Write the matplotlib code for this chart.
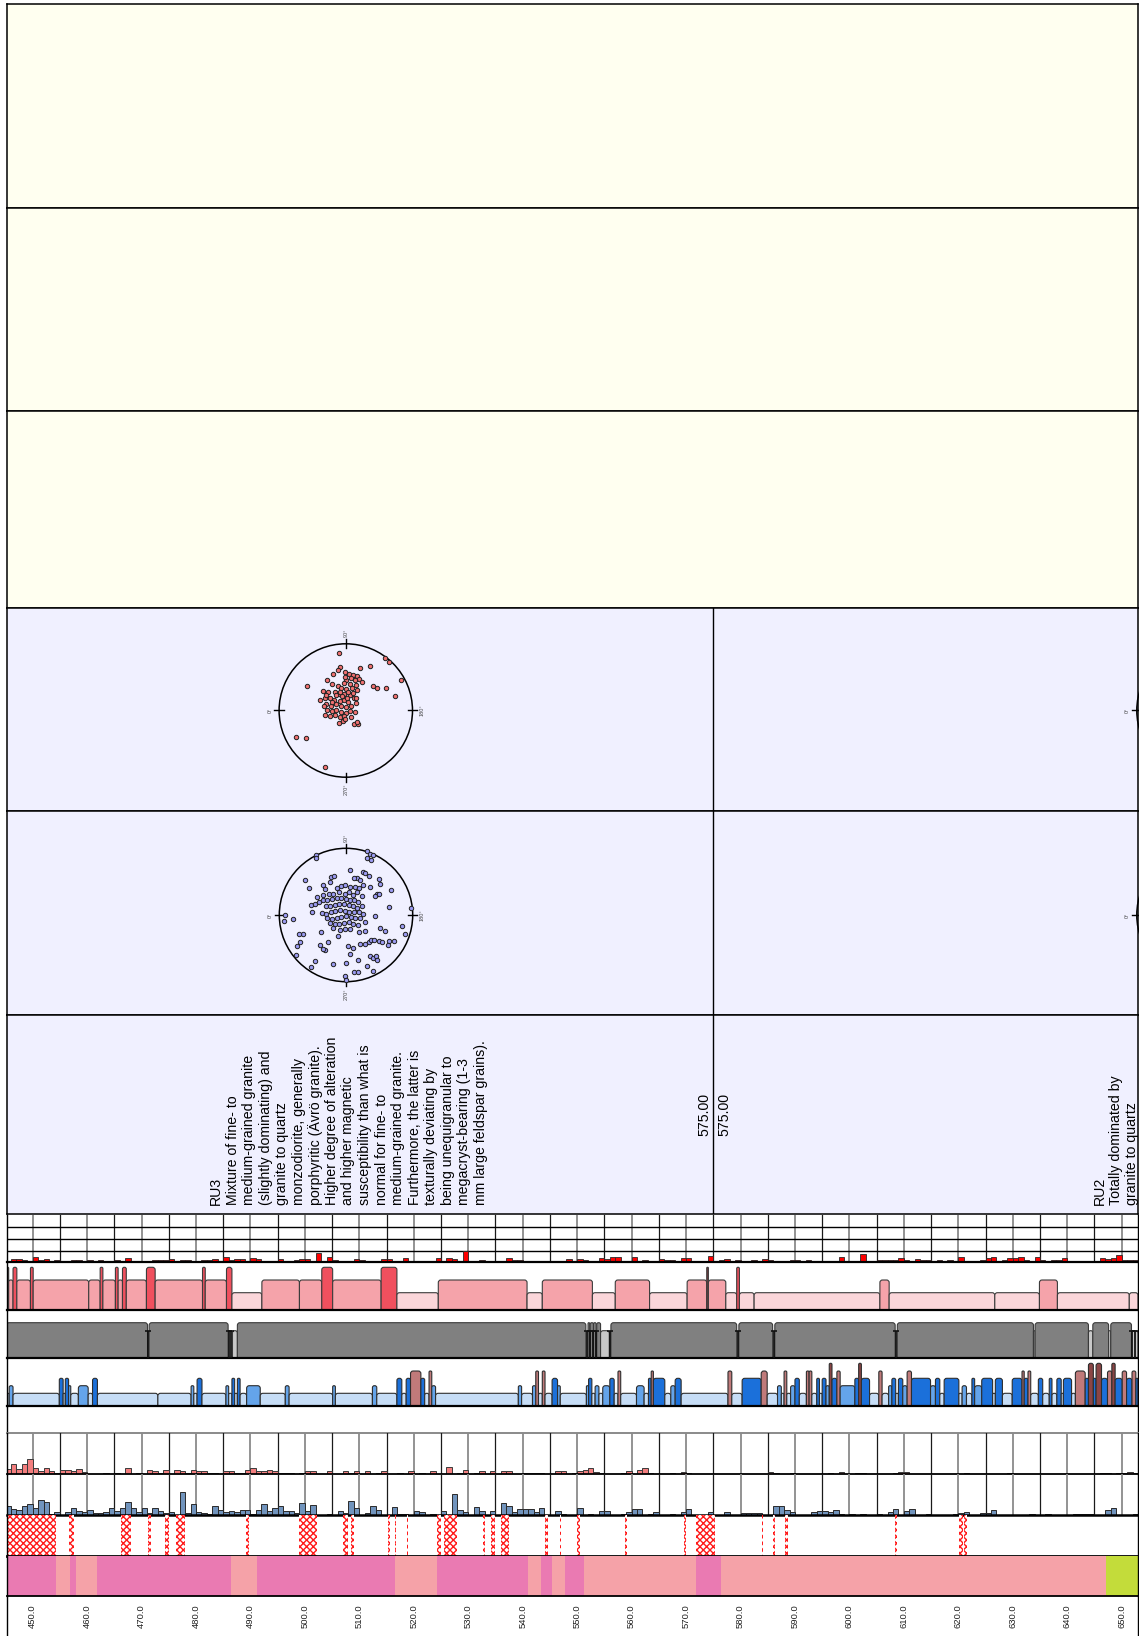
import matplotlib
matplotlib.use('Agg')
import matplotlib.pyplot as plt
from matplotlib.patches import Circle, FancyBboxPatch
from matplotlib.lines import Line2D
import numpy as np

plt.rcParams['font.family'] = ['Liberation Sans', 'DejaVu Sans']
plt.rcParams['hatch.linewidth'] = 1.0

# ---------------------------------------------------------------- data
DEPTH_MIN, DEPTH_MAX = 445.2, 653.0
depth_ticks = list(range(450, 651, 10))
section_boundary = 575.0

# 1 m bins starting at 445 m
bin_start = 445
red_bar_values = [
    0, .31, .26, .23, 0, .49, .20, .29, .11, .17, 0, .14, .23, .23, 0, .17, .14, .23, .09, 0,
    .23, 0, .40, .06, .11, .09, 0, .17, .23, .20, .31, 0, .23, .23, 0, .09, .23, .23, .26, 0,
    .43, .23, .26, .31, 0, .34, .31, .14, .09, 0, .26, 0, .14, .20, .29, .31, 0, .77, 0, .46,
    .17, .09, 0, .14, .31, .23, 0, .09, .09, .29, .31, 0, 0, .34, .14, .14, .11, 0, .14, .34,
    0, .34, .26, .09, 1.0, 0, .09, .17, .14, 0, 0, 0, .34, .17, .23, .14, .09, 0, .14, .14,
    .14, 0, .14, .29, .09, .26, .23, 0, .09, .40, .29, .43, .43, .06, 0, .43, 0, .23, 0, 0,
    .31, .20, .17, 0, .34, .34, 0, 0, 0, .51, 0, .17, .26, 0, .17, 0, 0, .17, 0, .26,
    .17, 0, 0, .14, .17, .17, 0, .17, 0, 0, 0, 0, 0, .43, 0, 0, 0, .71, 0, .14,
    .23, .23, .17, .17, .34, .23, 0, .29, .23, .23, 0, .23, 0, .17, 0, .49, 0, 0, 0, .20,
    .34, .43, 0, .17, .34, .34, .43, .20, 0, .43, .23, 0, .17, .17, .40, 0, .14, .14, .11, .09,
    0, .40, .29, .40, .60, .20, .20, .20]

red_hist_values = [
    16, 29, 16, 29, 45, 18, 8, 17, 8, 4, 12, 12, 8, 16, 6, 0, 0, 0, 4, 0,
    4, 0, 17, 0, 4, 0, 12, 8, 4, 12, 0, 12, 8, 4, 12, 8, 8, 4, 4, 0,
    8, 8, 4, 4, 12, 17, 8, 8, 12, 8, 4, 4, 2, 0, 2, 8, 8, 0, 0, 8,
    0, 0, 8, 4, 8, 0, 8, 0, 4, 8, 0, 0, 2, 0, 8, 0, 4, 0, 8, 0,
    0, 22, 0, 4, 13, 0, 4, 8, 0, 8, 0, 8, 8, 0, 0, 4, 4, 4, 4, 0,
    0, 8, 8, 0, 4, 8, 13, 19, 6, 2, 0, 0, 0, 2, 8, 0, 13, 17, 4, 0,
    0, 0, 4, 0, 6, 2, 0, 0, 0, 0, 0, 0, 0, 0, 0, 0, 0, 0, 0, 0,
    6, 2, 0, 0, 2, 0, 0, 0, 0, 0, 0, 2, 0, 6, 0, 0, 2, 2, 0, 0,
    1, 0, 0, 4, 6, 6, 0, 0, 0, 0, 0, 0, 0, 0, 0, 0, 2, 0, 0, 0,
    0, 0, 0, 0, 2, 0, 0, 0, 0, 0, 0, 0, 0, 0, 0, 0, 0, 0, 0, 0,
    0, 2, 2, 0, 2, 4, 6, 2]

blue_hist_values = [
    28, 18, 14, 26, 33, 20, 46, 38, 4, 8, 0, 8, 21, 12, 8, 14, 6, 6, 8, 21,
    12, 22, 38, 22, 8, 21, 6, 21, 12, 6, 8, 0, 70, 6, 33, 8, 6, 4, 26, 16,
    8, 12, 8, 16, 16, 4, 16, 32, 12, 20, 26, 12, 12, 6, 36, 12, 30, 0, 0, 2,
    0, 12, 6, 42, 20, 0, 6, 28, 16, 0, 0, 24, 2, 2, 0, 12, 8, 0, 2, 0,
    12, 0, 64, 16, 8, 0, 24, 12, 0, 12, 0, 36, 28, 8, 18, 18, 18, 8, 20, 0,
    0, 12, 2, 0, 0, 20, 0, 4, 0, 12, 12, 0, 0, 2, 8, 18, 18, 0, 2, 8,
    0, 0, 4, 0, 8, 18, 0, 0, 0, 8, 0, 0, 8, 0, 0, 6, 6, 6, 6, 0,
    0, 26, 26, 16, 10, 0, 0, 0, 8, 12, 12, 8, 14, 4, 0, 2, 0, 2, 0, 0,
    2, 0, 8, 18, 0, 12, 18, 0, 0, 2, 0, 0, 0, 0, 2, 6, 10, 0, 0, 6,
    6, 14, 0, 0, 0, 0, 0, 0, 2, 0, 0, 2, 0, 0, 0, 0, 4, 2, 4, 4,
    0, 0, 14, 22, 0, 0, 0, 2]

# alteration intensity intervals (from, to, class 1 faint .. 3 strong, 4 = strong thin/dark)
alteration = [
    (445.2, 445.6, 4), (445.6, 446.4, 2), (446.4, 447.1, 3), (447.1, 449.6, 2), (449.6, 450.1, 3),
    (450.1, 460.3, 2), (460.3, 462.4, 2), (462.4, 462.9, 3), (462.9, 465.2, 2), (465.2, 465.7, 3),
    (465.7, 466.5, 2), (466.5, 467.2, 3), (467.2, 470.9, 2), (470.9, 472.5, 3), (472.5, 481.2, 2),
    (481.2, 481.7, 3), (481.7, 485.6, 2), (485.6, 486.6, 3), (486.6, 492.1, 1), (492.1, 499.0, 2),
    (499.0, 503.1, 2), (503.1, 505.1, 3), (505.1, 514.0, 2), (514.0, 516.9, 3), (516.9, 524.5, 1),
    (524.5, 540.8, 2), (540.8, 543.6, 1), (543.6, 552.8, 2), (552.8, 557.0, 1), (557.0, 563.3, 2),
    (563.3, 570.2, 1), (570.2, 573.8, 2), (573.8, 574.1, 4), (574.1, 577.3, 2), (577.3, 579.3, 1),
    (579.3, 579.8, 3), (579.8, 582.5, 1), (582.5, 605.6, 1), (605.6, 607.3, 2), (607.3, 626.7, 1),
    (626.7, 634.9, 1), (634.9, 638.2, 2), (638.2, 651.4, 1), (651.4, 653.0, 1)]

# rock quality intervals (1 = lower, 2 = higher)
rock_quality = [
    (445.2, 471.1, 2), (471.4, 485.9, 2), (486.7, 487.6, 1), (487.6, 551.6, 2), (552.0, 552.3, 2),
    (552.4, 553.0, 2), (553.0, 553.5, 2), (553.6, 554.3, 2), (554.3, 555.9, 1), (556.2, 579.3, 2),
    (579.7, 585.9, 2), (586.3, 608.4, 2), (608.8, 633.8, 2), (633.8, 634.1, 1), (634.1, 643.9, 2),
    (643.9, 644.7, 1), (644.7, 647.6, 2), (647.6, 648.0, 1), (648.0, 651.8, 2), (651.8, 653.0, 1)]
rock_quality_markers = [471.25, 486.0, 486.5, 551.8, 552.35, 552.95, 553.5, 555.95,
                        579.5, 586.1, 608.6, 651.9, 652.4]

# fracture frequency class intervals (1 .. 5)
fracture_class = [
    (445.2, 445.7, 1), (445.7, 446.4, 2), (446.4, 454.9, 1), (454.9, 455.6, 3), (455.6, 456.0, 1),
    (456.0, 456.6, 3), (456.6, 457.0, 2), (457.0, 458.4, 1), (458.4, 460.2, 2), (460.2, 461.0, 1),
    (461.0, 461.9, 3), (461.9, 473.0, 1), (473.0, 479.1, 1), (479.1, 479.6, 2), (479.6, 480.2, 1),
    (480.2, 481.1, 3), (481.1, 485.5, 1), (485.5, 486.0, 2), (486.0, 486.6, 1), (486.6, 487.1, 3),
    (487.1, 487.6, 1), (487.6, 488.1, 3), (488.1, 489.3, 1), (489.3, 491.8, 2), (491.8, 496.4, 1),
    (496.4, 497.1, 2), (497.1, 505.1, 1), (505.1, 505.6, 2), (505.6, 512.4, 1), (512.4, 513.2, 2),
    (513.2, 516.9, 1), (516.9, 517.8, 3), (517.8, 518.6, 1), (518.6, 519.4, 3), (519.4, 521.3, 4),
    (521.3, 522.0, 3), (522.0, 522.8, 1), (522.8, 523.3, 4), (523.3, 524.0, 2), (524.0, 539.2, 1),
    (539.2, 539.8, 2), (539.8, 541.8, 1), (541.8, 542.4, 2), (542.4, 542.9, 4), (542.9, 543.6, 1),
    (543.6, 544.1, 4), (544.1, 545.4, 1), (545.4, 546.4, 3), (546.4, 546.9, 2), (546.9, 551.7, 1),
    (551.7, 552.1, 2), (552.1, 552.7, 3), (552.7, 553.3, 1), (553.3, 554.0, 2), (554.0, 554.7, 1),
    (554.7, 556.0, 2), (556.0, 556.8, 3), (556.8, 557.5, 1), (557.5, 558.0, 4), (558.0, 560.9, 1),
    (560.9, 562.3, 2), (562.3, 563.1, 1), (563.1, 563.6, 3), (563.6, 564.0, 4), (564.0, 566.1, 3),
    (566.1, 567.2, 1), (567.2, 568.0, 2), (568.0, 569.1, 3), (569.1, 577.7, 1), (577.7, 578.4, 4),
    (578.4, 580.3, 1), (580.3, 583.8, 3), (583.8, 584.9, 4), (584.9, 586.8, 1), (586.8, 587.5, 2),
    (587.5, 588.0, 1), (588.0, 588.5, 4), (588.5, 589.2, 1), (589.2, 590.0, 2), (590.0, 590.8, 3),
    (590.8, 592.1, 1), (592.1, 592.6, 4), (592.6, 593.1, 4), (593.1, 594.0, 1), (594.0, 594.5, 3),
    (594.5, 595.0, 1), (595.0, 595.7, 3), (595.7, 596.3, 2), (596.3, 596.8, 5), (596.8, 597.7, 3),
    (597.7, 598.3, 4), (598.3, 601.0, 2), (601.0, 601.7, 3), (601.7, 602.2, 5), (602.2, 603.7, 3),
    (603.7, 605.4, 1), (605.4, 606.0, 4), (606.0, 607.2, 1), (607.2, 607.8, 2), (607.8, 608.5, 3),
    (608.5, 609.0, 1), (609.0, 609.8, 3), (609.8, 610.6, 2), (610.6, 611.4, 4), (611.4, 614.9, 3),
    (614.9, 615.8, 2), (615.8, 616.6, 3), (616.6, 617.4, 1), (617.4, 620.1, 3), (620.1, 620.7, 1),
    (620.7, 621.5, 2), (621.5, 622.5, 1), (622.5, 623.0, 3), (623.0, 624.3, 2), (624.3, 626.3, 3),
    (626.3, 626.8, 1), (626.8, 628.1, 3), (628.1, 629.9, 1), (629.9, 631.7, 3), (631.7, 632.1, 4),
    (632.1, 632.8, 3), (632.8, 633.3, 4), (633.3, 634.7, 1), (634.7, 635.5, 3), (635.5, 636.7, 1),
    (636.7, 637.2, 3), (637.2, 638.1, 1), (638.1, 638.9, 3), (638.9, 639.3, 1), (639.3, 640.8, 3),
    (640.8, 641.5, 1), (641.5, 643.3, 4), (643.3, 643.9, 3), (643.9, 644.8, 5), (644.8, 645.3, 3),
    (645.3, 646.3, 5), (646.3, 647.4, 3), (647.4, 648.2, 4), (648.2, 648.8, 5), (648.8, 650.1, 3),
    (650.1, 650.9, 4), (650.9, 651.9, 3), (651.9, 652.6, 4), (652.6, 653.0, 3)]

# oxidized / hatched intervals
hatched_intervals = [
    (445.2, 454.2), (456.7, 457.6), (466.3, 468.0), (471.1, 471.7), (474.4, 475.0), (476.3, 477.9),
    (489.1, 489.7), (498.9, 502.3), (507.0, 507.9), (508.4, 509.0), (515.3, 515.6), (516.5, 516.8),
    (518.7, 519.0), (524.3, 525.0), (525.6, 527.9), (532.7, 533.0), (534.2, 535.0), (536.1, 537.4),
    (544.1, 544.6), (546.8, 547.1), (550.0, 550.5), (558.8, 559.2), (569.6, 570.0), (571.8, 575.3),
    (583.9, 584.1), (585.9, 586.4), (588.2, 588.7), (608.4, 608.7), (620.2, 620.9), (621.1, 621.6)]

# rock type intervals
rock_type = [
    (445.2, 454.3, 'A'), (454.3, 456.9, 'B'), (456.9, 458.0, 'A'), (458.0, 461.8, 'B'),
    (461.8, 486.4, 'A'), (486.4, 491.2, 'B'), (491.2, 516.5, 'A'), (516.5, 524.3, 'B'),
    (524.3, 541.0, 'A'), (541.0, 543.4, 'B'), (543.4, 545.4, 'A'), (545.4, 547.8, 'B'),
    (547.8, 551.3, 'A'), (551.3, 571.8, 'B'), (571.8, 576.4, 'A'), (576.4, 647.1, 'B'),
    (647.1, 653.0, 'C')]

# stereonet poles, projected coordinates in percent of net radius
red_pole_x = [-10, 59.5, 64.5, 36, 22, -9, -11, -1, -19, 5, 11, 17, 20, 8, 1, 14, 24, -28, -3, 6,
              15, 41, 47, 61, 83.5, -57.5, -21, -12, -7, 1, 10, 17, -34, -26, -16, -10, -3, 6, 13,
              -38, -31, -23, -17, -9, -2, 4, 16, 74, -29, -22, -15, -7, 0, 8, 15, -28, -21, -14,
              -7, 0, 7, 14, -31, -24, -16, -8, -2, 8, -10, -4, -1, 13, 19, 17, -74, -60, -31.5,
              -14, -20, 2, -5, -29, -33, 11, 4, -8, -1]
red_pole_y = [86, 79, 72, 67, 63, 65, 61, 58, 54, 55, 53, 51, 47, 48, 46, 45, 42, 45, 41, 40,
              38, 36, 34, 34, 45, 36, 39, 36, 33, 32, 33, 31, 29, 27, 28, 25, 24, 23, 19,
              16, 19, 19, 16, 14, 15, 12, 19, 21, 10, 7, 9, 6, 5, 6, 11, 1, -1, 1,
              -2, -3, -1, -2, -6, -8, -7, -10, -8, -10, -19, -15, -13, -20, -20, -17, -39, -41.5, -84,
              23, 13, 19, 21, 23, 7, 26, 28, 28, 50]
blue_pole_x = [-45, -45, 31, 36, 40, 32, 37, 6, 26, 28, 35, 17, 12, 21, -62, -22, -18, -24, 50, 51,
               -55, -34, -31, -14, -7, -1, 6, 14, 20, 26, 36, 47, 49, 68, 43, -43, -35, -26, -19,
               -11, -2, 4, 10, 17, 24, -52, -46, -40, -34, -28, -21, -14, -7, 0, 6, 12, 18, -30,
               -24, -17, -10, -3, 4, 11, 17, 24, 65, -51, -36, -30, -23, -16, -9, -2, 5, 12, 19,
               26, -28, -21, -14, -7, 0, 7, 14, 21, 28, 44, -92, -93, -79, 98, -24, -17, -10, -3,
               4, 11, 18, -19, -9, -1, 6, 20, 29, -37, -65, -12, 51, 59, 84, 88, -69, -73, -39,
               -31, 3, 10, 21, 29, 35, 38, 42, 50, 54, 65, 72, 63, 6, -75, -46, -19, 0, 18, 36,
               41, 45, 47, -53, 32, 41, 12, 18, -1, 0, -34, -27, -70]
blue_pole_y = [90, 86, 96, 92, 90, 85, 83, 67, 65, 63, 58, 56, 55, 53, 52, 57, 59, 50, 54, 47,
               40, 45, 39, 40, 43, 45, 42, 42, 40, 45, 42, 32, 31, 38, 29, 27, 30, 31, 32,
               34, 32, 35, 30, 34, 28, 15, 16, 20, 22, 22, 24, 25, 26, 24, 22, 23, 20, 14,
               13, 15, 17, 16, 15, 14, 11, 13, 12, 5, 3, 2, 4, 6, 7, 6, 5, 4, 4,
               1, -5, -6, -4, -3, -2, -3, -5, -4, -10, -2, 0, -9, -6, 10, -12, -14, -14, -12,
               -11, -13, -15, -20, -22, -21, -21, -25, -24, -25, -28, -31, -19, -24, -16, -29, -41, -46, -45,
               -53, -46, -49, -43, -43, -40, -37, -38, -39, -40, -39, -39, -45, -58, -60, -69, -73, -72, -68, -62,
               -65, -61, -67, -78, -77, -84, -85, -86, -91, -97, -51, -41, -28]

unit_label = 'RU3'
unit_description = ['Mixture of fine- to', 'medium-grained granite', '(slightly dominating) and',
                    'granite to quartz', 'monzodiorite, generally', 'porphyritic (Ävrö granite).',
                    'Higher degree of alteration', 'and higher magnetic', 'susceptibility than what is',
                    'normal for fine- to', 'medium-grained granite.', 'Furthermore, the latter is',
                    'texturally deviating by', 'being unequigranular to', 'megacryst-bearing (1-3',
                    'mm large feldspar grains).']
unit2_label = 'RU2'
unit2_description = ['Totally dominated by', 'granite to quartz']
boundary_label = '575.00'

# ---------------------------------------------------------------- layout helpers
W, H = 1139, 1636
fig = plt.figure(figsize=(W / 100, H / 100), dpi=100)
XL, XR = 6.5, 1138.0
PXM = (XR - XL) / (DEPTH_MAX - DEPTH_MIN)


def add_ax(x0, y0, x1, y1):
    return fig.add_axes([x0 / W, 1 - y1 / H, (x1 - x0) / W, (y1 - y0) / H])


def xpix(d):
    return XL + (d - DEPTH_MIN) * PXM


def ftext(xp, yp, s, **kw):
    return fig.text(xp / W, 1 - yp / H, s, **kw)


def panel(y0, y1, color):
    ax = add_ax(XL, y0, XR, y1)
    ax.set_facecolor(color)
    ax.set_xlim(DEPTH_MIN, DEPTH_MAX)
    ax.set_ylim(0, 1)
    ax.set_xticks([]); ax.set_yticks([])
    for s in ax.spines.values():
        s.set_linewidth(1.1); s.set_color('black')
    return ax


def track(y0, y1, bottom_lw=1.6, bottom_color='black'):
    ax = add_ax(XL, y0, XR, y1)
    ax.set_xlim(DEPTH_MIN, DEPTH_MAX)
    ax.set_ylim(0, y1 - y0)
    ax.set_xticks([]); ax.set_yticks([])
    ax.spines['top'].set_visible(False)
    ax.spines['bottom'].set_linewidth(bottom_lw)
    ax.spines['bottom'].set_color(bottom_color)
    ax.spines['left'].set_linewidth(1.0)
    ax.spines['right'].set_linewidth(1.0)
    ax.patch.set_alpha(0)
    return ax


def vgrid(ax):
    for d in range(450, 651, 5):
        if d % 10 == 0:
            ax.axvline(d, color='#8a8a8a', lw=1.3, zorder=0.5)
        else:
            ax.axvline(d, color='#1a1a1a', lw=0.9, zorder=0.5)


def rbar(ax, x0, x1, h, fc, ec='#3c3c3c', lw=0.8, r_px=2.6):
    w = x1 - x0
    r = min(r_px / PXM, w * 0.45)
    a = PXM
    p = FancyBboxPatch((x0, -r * a), w, h + r * a,
                       boxstyle=f"round,pad=0,rounding_size={r}", mutation_aspect=a,
                       fc=fc, ec=ec, lw=lw, zorder=2)
    ax.add_patch(p)


def bins_for(values):
    return np.arange(bin_start, bin_start + len(values))


# ---------------------------------------------------------------- top panels
for y0, y1 in [(4, 208), (208, 411), (411, 608)]:
    panel(y0, y1, '#FFFFF0')

LAV = '#F0F0FF'
for y0, y1 in [(608, 811), (811, 1015), (1015, 1214)]:
    ax = panel(y0, y1, LAV)
    ax.axvline(section_boundary, color='black', lw=1.0)
txt_ax = fig.axes[5]


def stereonet(cx, cy, xs, ys, fc, ec='#202020'):
    R = 66.7
    half = 1.35 * R
    ax = add_ax(cx - half, cy - half, cx + half, cy + half)
    ax.set_xlim(-1.35, 1.35); ax.set_ylim(-1.35, 1.35)
    ax.axis('off')
    ax.add_patch(Circle((0, 0), 1, fill=False, lw=1.1, ec='black', zorder=2))
    for ang in (0, 90, 180, 270):
        c, s = np.cos(np.radians(ang)), np.sin(np.radians(ang))
        ax.plot([0.93 * c, 1.07 * c], [0.93 * s, 1.07 * s], color='black', lw=1.0)
    lab = dict(fontsize=4.0, color='#444444', rotation=90)
    ax.text(-1.1, 0, '0°', ha='right', va='center', **lab)
    if cx + half < W:
        ax.text(0, 1.1, '90°', ha='center', va='bottom', **lab)
        ax.text(1.1, 0, '180°', ha='left', va='center', **lab)
        ax.text(0, -1.1, '270°', ha='center', va='top', **lab)
    if xs is not None:
        ax.scatter(np.array(xs) / 100.0, np.array(ys) / 100.0, s=10, c=fc,
                   edgecolors=ec, linewidths=0.7, zorder=3)


stereonet(345.8, 710.5, red_pole_x, red_pole_y, '#F07070')
stereonet(346.0, 915.0, blue_pole_x, blue_pole_y, '#9A9AF0')
stereonet(1203.5, 710.5, None, None, None)
stereonet(1203.5, 915.0, None, None, None)

# ---------------------------------------------------------------- description texts
FS = 10.2
lines1 = [unit_label] + unit_description
for i, line in enumerate(lines1):
    ftext(216 + i * 16.55, 1205, line, rotation=90, ha='center', va='bottom', fontsize=FS)
ftext(704, 1136, boundary_label, rotation=90, ha='center', va='bottom', fontsize=FS)
ftext(724, 1136, boundary_label, rotation=90, ha='center', va='bottom', fontsize=FS)
lines2 = [unit2_label] + unit2_description
for i, line in enumerate(lines2):
    t = ftext(1100 + i * 16.0, 1205, line, rotation=90, ha='center', va='bottom', fontsize=FS)
    t.set_clip_box(txt_ax.bbox)
    t.set_clip_on(True)

# ---------------------------------------------------------------- tracks
# track 1: red bars with grid
t1 = track(1214.7, 1262.3)
t1.set_ylim(0, 4.1)
vgrid(t1)
for yy in (1, 2, 3):
    t1.axhline(yy, color='black', lw=1.0, zorder=0.6)
t1.bar(bins_for(red_bar_values), red_bar_values, width=1.0, align='edge', color='#FF0000',
       edgecolor='#2a2a2a', linewidth=0.6, zorder=2)

# track 2: alteration
t2 = track(1262.3, 1310)
alt_h = {1: 17.3, 2: 30.0, 3: 42.7, 4: 42.7}
alt_c = {1: '#FBD6DA', 2: '#F5A3AA', 3: '#F0505E', 4: '#7E3A3E'}
for a, b, lev in alteration:
    rbar(t2, a, b, alt_h[lev], alt_c[lev])

# track 3: rock quality
t3 = track(1310, 1358.3)
rq_h = {1: 27.6, 2: 35.6}
rq_c = {1: '#C8C8C8', 2: '#808080'}
for a, b, lev in rock_quality:
    rbar(t3, a, b, rq_h[lev], rq_c[lev], ec='#3a3a3a')
t3.vlines(rock_quality_markers, 0, 27.0, color='#111111', lw=1.3, zorder=3)
t3.plot(rock_quality_markers, [27.0] * len(rock_quality_markers), ls='none', marker='_',
        ms=4, mew=1.2, color='#111111', zorder=3)

# track 4: fracture classes
t4 = track(1358.3, 1406)
fr_h = {1: 12.7, 2: 20.3, 3: 27.7, 4: 35.0, 5: 42.7}
fr_c = {1: '#C6DDF6', 2: '#64A4EA', 3: '#1B70DA', 4: '#C07A7A', 5: '#8B4545'}
for a, b, lev in fracture_class:
    rbar(t4, a, b, fr_h[lev], fr_c[lev], ec='#2e2e2e')

# track 5: empty
t5 = track(1406, 1432.7, bottom_lw=1.4, bottom_color='#8a8a8a')

# track 6: red histogram
t6 = track(1432.7, 1474, bottom_lw=1.3)
t6.set_ylim(0, 124)
vgrid(t6)
t6.bar(bins_for(red_hist_values), red_hist_values, width=1.0, align='edge', color='#F37E7E',
       edgecolor='#3a3a3a', linewidth=0.7, zorder=2)

# track 7: blue histogram
t7 = track(1474, 1515, bottom_lw=1.8)
t7.set_ylim(0, 123)
vgrid(t7)
t7.bar(bins_for(blue_hist_values), blue_hist_values, width=1.0, align='edge', color='#7194BD',
       edgecolor='#2a2a2a', linewidth=0.7, zorder=2)

# track 8: hatched intervals
t8 = track(1515, 1555.7, bottom_lw=2.0)
for a, b in hatched_intervals:
    t8.bar(a, 1000, width=b - a, align='edge', bottom=-10, facecolor='white',
           edgecolor='#FF1A1A', hatch='xxxxx', linewidth=0, zorder=2)

# track 9: rock type
t9 = track(1555.7, 1596, bottom_lw=1.3)
rock_c = {'A': '#EA7AB2', 'B': '#F5A2A8', 'C': '#C3DC3A'}
for a, b, code in rock_type:
    t9.bar(a, 100, width=b - a, align='edge', bottom=-10, color=rock_c[code], linewidth=0, zorder=2)

# depth labels
for d in depth_ticks:
    ftext(xpix(d), 1604, f"{d:.1f}", rotation=90, ha='center', va='top', fontsize=6.8,
          color='#222222')

# outer frame lines through the label area
for xp in (XL, XR):
    fig.add_artist(Line2D([xp / W, xp / W], [0, 1 - 1596 / H], color='black', lw=1.0,
                          transform=fig.transFigure))

fig.savefig('out.png', dpi=100)
